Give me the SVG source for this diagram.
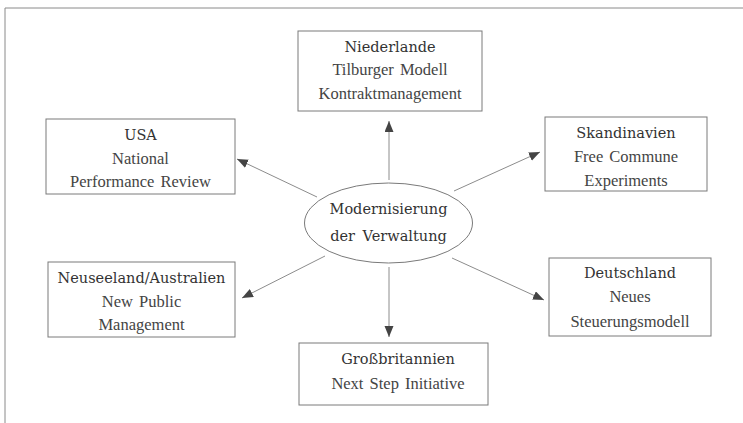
<svg xmlns="http://www.w3.org/2000/svg" width="743" height="423" viewBox="0 0 743 423">
<style>
.frame{fill:none;stroke:#8a8a8a;stroke-width:1}
.box{fill:#fff;stroke:#7a7a7a;stroke-width:1}
.conn{fill:none;stroke:#8c8c8c;stroke-width:1}
.h{font-family:"DejaVu Serif","Liberation Serif",serif;font-size:14.5px;fill:#333;text-anchor:middle}
.t{font-family:"Liberation Serif",serif;font-size:16.5px;fill:#444;text-anchor:middle;word-spacing:2px}
</style>
<defs>
<marker id="ah" markerUnits="userSpaceOnUse" markerWidth="12" markerHeight="10" refX="11" refY="4.5" orient="auto">
<path d="M0,0 L11,4.5 L0,9 z" fill="#444"/>
</marker>
</defs>
<rect width="743" height="423" fill="#fff"/>
<g id="frame">
<path class="frame" d="M5,423 V8 H743"/>
</g>
<g id="connectors">
<line class="conn" x1="389" y1="180" x2="389" y2="121" marker-end="url(#ah)"/>
<line class="conn" x1="389" y1="267" x2="389" y2="337" marker-end="url(#ah)"/>
<line class="conn" x1="317" y1="197" x2="237" y2="159" marker-end="url(#ah)"/>
<line class="conn" x1="454" y1="191" x2="540" y2="152" marker-end="url(#ah)"/>
<line class="conn" x1="325" y1="256" x2="242" y2="298" marker-end="url(#ah)"/>
<line class="conn" x1="452" y1="258" x2="544" y2="300" marker-end="url(#ah)"/>
</g>
<g id="center">
<ellipse class="box" cx="388.5" cy="223" rx="84" ry="40"/>
<text class="h" x="388.5" y="214">Modernisierung</text>
<text class="h" x="388.5" y="241" word-spacing="3">der Verwaltung</text>
</g>
<g id="niederlande">
<rect class="box" x="298" y="31" width="184" height="80"/>
<text class="h" x="390" y="52">Niederlande</text>
<text class="t" x="390" y="75">Tilburger Modell</text>
<text class="t" x="390" y="99">Kontraktmanagement</text>
</g>
<g id="usa">
<rect class="box" x="46" y="119" width="189" height="75"/>
<text class="h" x="140.5" y="140">USA</text>
<text class="t" x="140.5" y="164">National</text>
<text class="t" x="140.5" y="187">Performance Review</text>
</g>
<g id="skandinavien">
<rect class="box" x="545" y="117" width="162" height="74"/>
<text class="h" x="626" y="138">Skandinavien</text>
<text class="t" x="626" y="162">Free Commune</text>
<text class="t" x="626" y="186">Experiments</text>
</g>
<g id="neuseeland">
<rect class="box" x="48" y="262" width="187" height="75"/>
<text class="h" x="141.5" y="283">Neuseeland/Australien</text>
<text class="t" x="141.5" y="307">New Public</text>
<text class="t" x="141.5" y="330">Management</text>
</g>
<g id="deutschland">
<rect class="box" x="549" y="258" width="162" height="78"/>
<text class="h" x="630" y="278">Deutschland</text>
<text class="t" x="630" y="302">Neues</text>
<text class="t" x="630" y="327">Steuerungsmodell</text>
</g>
<g id="grossbritannien">
<rect class="box" x="299" y="343" width="189" height="62"/>
<text class="h" x="398" y="364">Großbritannien</text>
<text class="t" x="398" y="389">Next Step Initiative</text>
</g>
</svg>
